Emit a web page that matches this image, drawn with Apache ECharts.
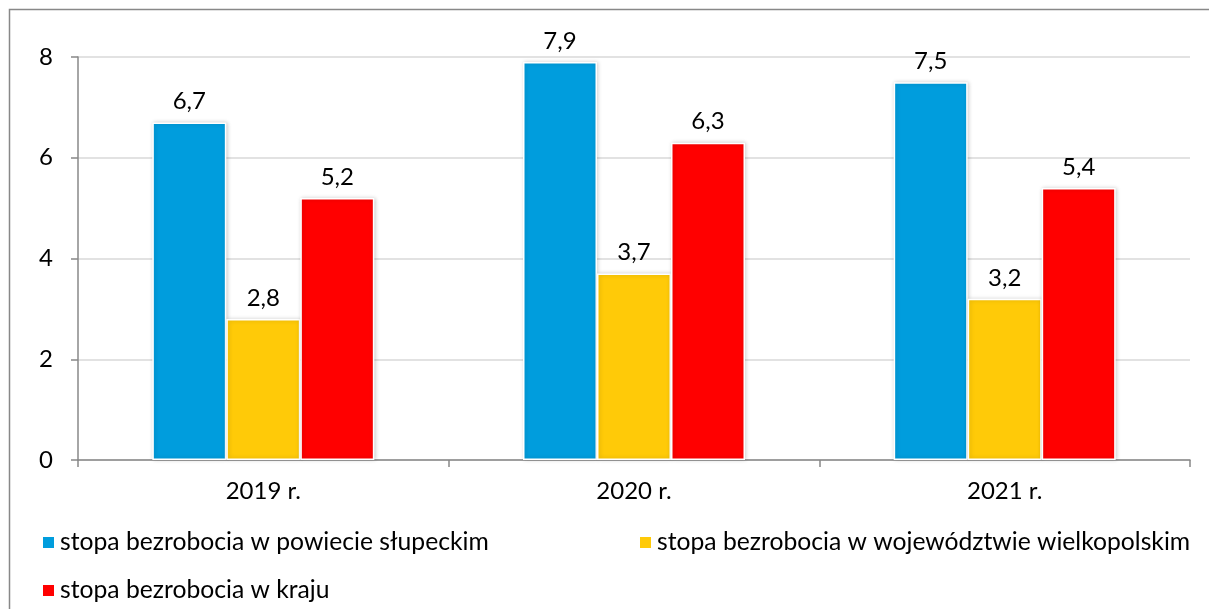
<!DOCTYPE html>
<html>
<head>
<meta charset="utf-8">
<script src="https://cdn.jsdelivr.net/npm/echarts@6/dist/echarts.min.js"></script>
<style>
html,body{margin:0;padding:0;background:#fff;}
#c{width:1209px;height:609px;}
</style>
</head>
<body>
<div id="c"></div>
<script>
const categories = ['2019 r.', '2020 r.', '2021 r.'];
const seriesNames = ['stopa bezrobocia w powiecie słupeckim', 'stopa bezrobocia w województwie wielkopolskim', 'stopa bezrobocia w kraju'];
const powiat = [6.7, 7.9, 7.5];
const wojewodztwo = [2.8, 3.7, 3.2];
const kraj = [5.2, 6.3, 5.4];
const yTicks = [0, 2, 4, 6, 8];

const colors = ['#009DDD', '#FFCA08', '#FF0000'];
const FONT = 'Lato';
const FS = 24;
const LFS = 24.7;

const chart = echarts.init(document.getElementById('c'));
function mk(name, data, color) {
  return {
    name: name, type: 'bar', data: data,
    barWidth: 74, barGap: '0%',
    itemStyle: {color: color, borderColor: '#fff', borderWidth: 1.5,
      shadowColor: 'rgba(0,0,0,0.18)', shadowBlur: 4, shadowOffsetX: 1, shadowOffsetY: 0},
    label: {show: true, position: 'top', distance: 9, color: '#000',
      fontFamily: FONT, fontSize: FS,
      formatter: p => String(p.value).replace('.', ',')}
  };
}
const legendBase = {
  orient: 'horizontal', padding: 0, itemWidth: 13, itemHeight: 13, itemGap: 0,
  icon: 'rect', textStyle: {fontFamily: FONT, fontSize: LFS, color: '#000'}
};
chart.setOption({
  animation: false,
  backgroundColor: '#fff',
  grid: {left: 78, right: 19, top: 57, bottom: 149, containLabel: false},
  xAxis: {
    type: 'category', data: categories,
    axisLine: {lineStyle: {color: '#888', width: 1.5}},
    axisTick: {show: true, length: 7, lineStyle: {color: '#888', width: 1.5}},
    axisLabel: {fontFamily: FONT, fontSize: FS, color: '#000', margin: 19}
  },
  yAxis: {
    type: 'value', min: yTicks[0], max: yTicks[yTicks.length - 1], interval: 2,
    axisLine: {show: true, lineStyle: {color: '#888', width: 1.5}},
    axisTick: {show: true, length: 7, lineStyle: {color: '#888', width: 1.5}},
    axisLabel: {fontFamily: FONT, fontSize: FS, color: '#000', margin: 25},
    splitLine: {lineStyle: {color: '#d9d9d9', width: 1.5}}
  },
  legend: [
    Object.assign({}, legendBase, {data: [seriesNames[0]], left: 41, top: 530}),
    Object.assign({}, legendBase, {data: [seriesNames[1]], left: 638, top: 530}),
    Object.assign({}, legendBase, {data: [seriesNames[2]], left: 41, top: 578})
  ],
  graphic: [{
    type: 'rect', shape: {x: 9.5, y: 9.5, width: 1300, height: 700},
    style: {fill: 'none', stroke: '#888', lineWidth: 1.5}, silent: true
  }],
  series: [
    mk(seriesNames[0], powiat, colors[0]),
    mk(seriesNames[1], wojewodztwo, colors[1]),
    mk(seriesNames[2], kraj, colors[2])
  ]
});
</script>
</body>
</html>
